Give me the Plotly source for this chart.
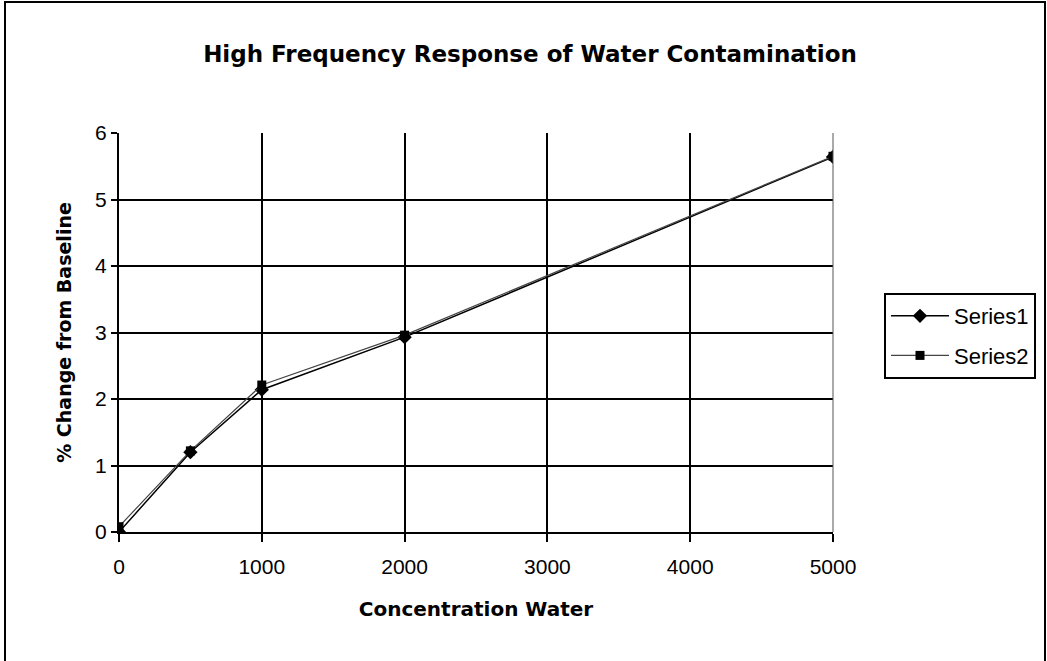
import plotly.graph_objects as go

concentration = [0, 500, 1000, 2000, 5000]
series1 = [0.0, 1.2, 2.14, 2.93, 5.64]
series2 = [0.08, 1.22, 2.21, 2.96, 5.65]
series_names = ["Series1", "Series2"]
x_ticks = [0, 1000, 2000, 3000, 4000, 5000]
y_ticks = [0, 1, 2, 3, 4, 5, 6]

W, H = 1047, 661
L, R, T, B = 119, 833, 133, 532
pw, ph = R - L, B - T

def px(x):
    return (x - L) / pw

def py(y):
    return (B - y) / ph

BOLD = "DejaVu Sans, Verdana, sans-serif"
REG = "Liberation Sans, Arial, sans-serif"

fig = go.Figure()
fig.add_trace(go.Scatter(
    x=concentration, y=series1, name=series_names[0], mode="lines+markers",
    legendgroup="s1",
    line=dict(color="black", width=1.5),
    marker=dict(symbol="diamond", size=11, color="black"),
))
fig.add_trace(go.Scatter(
    x=concentration, y=series2, name=series_names[1], mode="lines+markers",
    legendgroup="s2",
    line=dict(color="#444444", width=1.2),
    marker=dict(symbol="square", size=9, color="black"),
))

tick_font = dict(family=REG, size=21, color="black")
fig.update_layout(
    width=W, height=H,
    margin=dict(l=L, r=W - R, t=T, b=H - B, autoexpand=False),
    paper_bgcolor="white", plot_bgcolor="white",
    title=dict(
        text="<b>High Frequency Response of Water Contamination</b>",
        x=530 / W, xref="container", xanchor="center",
        y=1 - 54 / H, yref="container", yanchor="middle",
        font=dict(family=BOLD, size=23, color="black"),
    ),
    xaxis=dict(
        range=[0, 5000], tickvals=x_ticks, ticktext=[str(v) for v in x_ticks],
        showgrid=True, gridcolor="black", gridwidth=2,
        showline=True, linecolor="black", linewidth=2, mirror=False,
        ticks="outside", ticklen=8, tickwidth=2, tickcolor="black",
        ticklabelstandoff=7,
        tickfont=tick_font, zeroline=False,
        title=dict(text="<b>Concentration Water</b>", font=dict(family=BOLD, size=20, color="black"), standoff=25),
    ),
    yaxis=dict(
        range=[0, 6], tickvals=y_ticks, ticktext=[str(v) for v in y_ticks],
        showgrid=True, gridcolor="black", gridwidth=2,
        showline=True, linecolor="black", linewidth=2,
        ticks="outside", ticklen=6, tickwidth=2, tickcolor="black",
        tickfont=tick_font, zeroline=False,
        title=dict(text="<b>% Change from Baseline</b>", font=dict(family=BOLD, size=19, color="black"), standoff=18),
    ),
    legend=dict(
        x=px(884), y=py(293), xanchor="left", yanchor="top",
        bordercolor="black", borderwidth=2, bgcolor="white",
        font=dict(family=REG, size=22, color="black"),
        tracegroupgap=8, itemwidth=58,
    ),
    showlegend=True,
)

# right border of plot area (thin)
fig.add_shape(type="line", xref="paper", yref="paper", x0=1, x1=1, y0=0, y1=1,
              line=dict(color="#555555", width=1))
# outer chart border
fig.add_shape(type="rect", xref="paper", yref="paper",
              x0=px(5), x1=px(1045), y0=py(690), y1=py(2),
              line=dict(color="black", width=2), layer="below")

fig.write_html("out.html", config={"displayModeBar": False},
               post_script="document.body.style.margin='0';")
